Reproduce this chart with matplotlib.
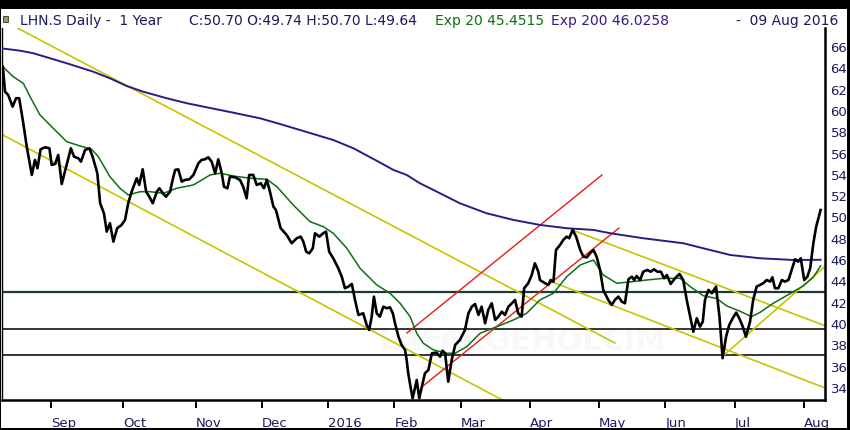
import matplotlib.pyplot as plt
from matplotlib.patches import Rectangle

# trading-day index (0 = 10 Aug 2015) and prices
price_day = [0.7, 1.4, 2.4, 3.8, 4.9, 5.9, 7.2, 8.3, 9.9, 10.9, 11.7, 12.7, 14.1, 15.5, 16.2,
             17.3, 18.3, 19.4, 20.8, 22.3, 23.3, 24.7, 25.5, 26.8, 28.2, 29.2, 30.7, 31.6, 32.8,
             33.7, 34.7, 35.8, 37.0, 38.4, 39.5, 40.5, 41.6, 43.2, 44.0, 45.1, 46.2, 47.2, 48.3,
             49.6, 50.4, 51.5, 52.5, 53.8, 54.6, 55.4, 56.4, 57.5, 58.5, 59.9, 61.2, 62.8, 63.8,
             64.9, 65.9, 67.0, 68.1, 69.1, 70.2, 70.9, 72.0, 72.8, 74.4, 76.0, 77.0, 78.1, 78.9,
             80.2, 81.3, 82.6, 83.6, 84.5, 85.5, 86.6, 87.4, 88.2, 88.9, 90.8, 92.4, 94.0, 95.3,
             96.1, 97.0, 98.0, 99.1, 99.8, 101.2, 102.4, 103.3, 104.3, 105.6, 107.2, 108.3, 109.3,
             110.4, 111.5, 112.5, 113.6, 115.1, 116.2, 117.0, 117.8, 118.5, 119.4, 120.4, 121.5,
             122.6, 123.6, 124.5, 125.2, 126.3, 127.3, 128.4, 128.9, 129.4, 130.2, 130.8, 132.1,
             132.9, 134.7, 135.8, 136.9, 138.4, 139.5, 140.3, 141.1, 142.1, 143.2, 144.3, 145.8,
             147.4, 148.5, 149.6, 150.6, 151.7, 152.7, 153.8, 154.8, 155.9, 157.0, 158.0, 159.1,
             160.1, 161.2, 162.3, 163.3, 164.3, 165.4, 166.2, 167.5, 168.6, 169.6, 170.7, 171.2,
             172.8, 173.9, 174.6, 175.5, 176.3, 177.6, 178.6, 179.7, 180.5, 181.6, 182.7, 184.0,
             185.0, 186.1, 187.1, 188.2, 189.2, 190.3, 191.3, 192.9, 194.0, 195.0, 196.1, 197.2,
             198.2, 199.3, 200.4, 201.1, 201.9, 203.0, 204.0, 205.3, 206.4, 207.4, 208.5, 209.6,
             210.6, 211.5, 212.7, 214.1, 215.5, 216.7, 217.8, 218.9, 219.9, 221.0, 222.0, 222.9,
             223.6, 224.7, 225.8, 227.1, 228.2, 229.2, 230.3, 231.3, 232.4, 233.5, 234.5, 235.6,
             236.6, 237.9, 238.9, 240.0, 241.1, 242.1, 243.2, 244.3, 245.0, 245.8, 246.9, 248.0,
             249.0, 250.1, 251.1, 252.2, 253.2, 254.0, 255.1, 256.1, 257.0, 258.0, 258.9, 259.6,
             260.3]
price_val = [64.15, 61.80, 61.50, 60.40, 61.19, 61.19, 58.84, 56.64, 53.99, 55.40, 54.62, 56.40,
             56.59, 56.49, 54.93, 55.02, 55.86, 53.14, 54.77, 56.49, 55.71, 55.55, 55.24, 56.33,
             56.49, 55.71, 54.15, 51.33, 50.39, 48.67, 49.46, 47.73, 48.99, 49.30, 49.77, 51.33,
             52.42, 53.68, 53.05, 54.52, 52.42, 51.95, 51.33, 52.42, 52.74, 52.27, 51.95, 52.42,
             53.52, 54.46, 54.52, 53.36, 53.52, 53.58, 53.99, 55.09, 55.40, 55.46, 55.65, 55.24,
             54.15, 55.46, 54.15, 52.89, 52.74, 53.83, 53.77, 53.52, 52.89, 51.80, 53.99, 53.99,
             53.05, 53.21, 52.74, 53.52, 52.42, 51.01, 50.70, 49.77, 48.99, 48.36, 47.58, 48.05,
             48.20, 47.73, 46.79, 46.64, 47.11, 48.52, 48.20, 48.52, 48.67, 46.79, 46.17, 45.23,
             44.44, 43.36, 43.51, 43.76, 42.26, 40.85, 41.01, 39.91, 39.44, 40.69, 42.57, 41.01,
             40.69, 41.63, 41.48, 41.57, 41.01, 40.07, 38.81, 38.04, 37.57, 36.63, 35.38, 33.97,
             33.03, 34.75, 33.03, 35.38, 35.69, 37.26, 37.31, 36.94, 37.50, 37.26, 34.59, 36.63,
             38.04, 38.50, 39.44, 41.01, 41.63, 41.88, 40.85, 41.63, 40.07, 41.32, 41.95, 40.38,
             40.69, 41.16, 40.85, 41.63, 41.95, 42.26, 41.01, 40.69, 43.36, 43.83, 44.60, 45.70,
             44.91, 44.13, 43.83, 43.67, 44.13, 43.98, 46.95, 47.42, 47.89, 48.20, 48.05, 48.83,
             48.20, 46.95, 46.32, 46.26, 46.64, 46.95, 46.32, 45.07, 43.20, 42.26, 41.79, 42.26,
             42.57, 42.10, 41.95, 44.20, 44.44, 44.13, 44.51, 44.13, 44.91, 45.07, 44.91, 45.14,
             44.91, 44.91, 44.29, 44.60, 43.76, 44.29, 44.70, 44.13, 42.26, 40.69, 39.28, 40.54,
             39.75, 40.22, 42.26, 43.20, 42.89, 43.51, 40.69, 36.79, 38.81, 39.91, 40.54, 41.07,
             40.54, 39.75, 38.81, 40.22, 42.26, 43.51, 43.67, 43.83, 44.13, 43.98, 44.39, 43.36,
             43.36, 44.13, 43.98, 44.13, 45.07, 46.08, 45.85, 46.17, 44.13, 44.44, 45.23, 47.58,
             49.14, 49.92, 50.70]

ema20_day = [0.7, 4.0, 7.2, 9.9, 12.5, 16.7, 21.0, 25.2, 28.9, 31.0, 34.7, 37.9, 40.5, 44.3,
             47.4, 51.7, 55.9, 61.2, 66.5, 69.7, 73.9, 79.2, 84.5, 87.7, 92.9, 98.2, 102.4, 105.6,
             109.9, 114.1, 119.4, 123.6, 126.8, 130.0, 132.1, 134.2, 137.4, 141.6, 144.3, 148.0,
             152.2, 157.5, 162.8, 167.0, 171.2, 175.5, 179.7, 184.0, 188.2, 191.3, 195.6, 199.8,
             205.1, 210.4, 215.7, 218.9, 223.1, 227.3, 230.5, 234.7, 238.4, 241.1, 245.3, 250.6,
             254.9, 258.0, 260.3]
ema20_val = [64.15, 63.21, 62.59, 61.03, 59.62, 58.37, 57.11, 56.71, 56.40, 55.71, 53.83, 52.74,
             52.11, 52.42, 52.42, 52.27, 52.74, 53.05, 53.99, 54.15, 53.89, 53.68, 53.58, 52.89,
             51.17, 49.61, 49.14, 48.52, 47.11, 45.23, 43.67, 42.89, 41.95, 40.69, 39.13, 38.19,
             37.57, 37.26, 37.26, 37.88, 39.13, 39.75, 40.38, 41.01, 42.26, 42.89, 44.44, 45.54,
             46.01, 44.60, 43.83, 43.95, 44.13, 44.29, 44.29, 43.51, 42.65, 42.40, 41.70, 41.20,
             40.69, 41.10, 41.95, 42.85, 43.60, 44.40, 45.45]

ema200_day = [0.0, 6.2, 10.4, 15.7, 21.0, 29.4, 34.7, 40.0, 45.3, 52.7, 59.1, 65.4, 73.9, 82.3,
              88.7, 95.0, 105.6, 112.0, 118.9, 124.7, 128.9, 133.1, 137.4, 145.8, 154.3, 162.8,
              171.2, 179.7, 188.2, 193.5, 204.0, 216.7, 225.2, 231.6, 241.1, 251.7, 260.3]
ema200_val = [65.88, 65.65, 65.41, 64.94, 64.47, 63.68, 63.06, 62.34, 61.80, 61.19, 60.72, 60.34,
              59.83, 59.31, 58.77, 58.21, 57.27, 56.49, 55.40, 54.46, 53.99, 53.21, 52.58, 51.33,
              50.39, 49.77, 49.30, 48.99, 48.83, 48.52, 48.05, 47.58, 46.95, 46.48, 46.17, 46.01,
              46.03]

# drawn trendlines: (day0, price0, day1, price1)
yellow_lines = [(5.5, 67.75, 195.0, 38.22),
                (0.0, 57.85, 160.0, 32.76),
                (181.4, 48.83, 261.7, 39.84),
                (175.1, 43.95, 261.7, 34.0),
                (229.3, 37.0, 261.7, 45.40)]
red_lines = [(129.0, 39.16, 190.9, 53.99),
             (134.1, 34.19, 196.3, 49.01)]
levels = [43.0, 39.5, 37.1]

month_ticks = [16, 39, 62, 83, 104, 125, 146, 168, 190, 211, 233, 255]
month_labels = ['Sep', 'Oct', 'Nov', 'Dec', '2016', 'Feb', 'Mar', 'Apr', 'May', 'Jun', 'Jul', 'Aug']
price_ticks = list(range(34, 67, 2))

navy = '#1a1a5c'
W, H = 850, 430
fig = plt.figure(figsize=(8.5, 4.3), dpi=100)
ax = fig.add_axes([2 / W, 30 / H, 823 / W, 372 / H])
ax.set_xlim(0.44, 261.7)
ax.set_ylim(32.87, 67.78)

# barely visible watermark
ax.text(120, 37.6, 'LAFARGEHOLCIM', fontsize=22, fontweight='bold', color='#f8f8f8', zorder=0)

ax.axhline(levels[0], color='#1d3b31', lw=1.6, zorder=1)
for lv in levels[1:]:
    ax.axhline(lv, color='black', lw=1.1, zorder=1)

for x0, y0, x1, y1 in yellow_lines:
    ax.plot([x0, x1], [y0, y1], color='#c8c400', lw=1.2, zorder=2)
for x0, y0, x1, y1 in red_lines:
    ax.plot([x0, x1], [y0, y1], color='#e81c14', lw=1.0, zorder=2)

ax.plot(ema200_day, ema200_val, color='#2e1a86', lw=1.4, zorder=3)
ax.plot(ema20_day, ema20_val, color='#0f6e14', lw=1.1, zorder=3)
ax.plot(price_day, price_val, color='black', lw=1.9, zorder=4, solid_joinstyle='round')

ax.spines['top'].set_visible(False)
ax.spines['left'].set_linewidth(1.0)
ax.spines['right'].set_linewidth(1.8)
ax.spines['bottom'].set_linewidth(1.8)

ax.set_xticks(month_ticks)
ax.set_xticklabels(month_labels, ha='left', color=navy, fontsize=9.5)
ax.tick_params(axis='x', direction='out', length=6, width=1.4, pad=6)
ax.yaxis.tick_right()
ax.set_yticks(price_ticks)
ax.set_yticklabels([str(v) for v in price_ticks], color=navy, fontsize=9.5)
ax.tick_params(axis='y', length=0, pad=4)

# header
ty = 1 - 21 / H
fs = 10.0
fig.text(20.5 / W, ty, 'LHN.S Daily -  1 Year', color=navy, fontsize=fs, va='center')
fig.text(189 / W, ty, 'C:50.70 O:49.74 H:50.70 L:49.64', color=navy, fontsize=fs, va='center')
fig.text(435 / W, ty, 'Exp 20 45.4515', color='#0f6e14', fontsize=fs, va='center')
fig.text(551 / W, ty, 'Exp 200 46.0258', color='#3a1a7e', fontsize=fs, va='center')
fig.text(838 / W, ty, '-  09 Aug 2016', color=navy, fontsize=fs, va='center', ha='right')
fig.patches.append(Rectangle((3 / W, 1 - 22 / H), 5 / W, 6 / H, transform=fig.transFigure,
                             facecolor='#9a9a55', edgecolor='#333333', lw=0.6))

# black outer frame
for x, y, w, h in [(0, 1 - 9 / H, 1, 9 / H), (847 / W, 0, 3 / W, 1), (0, 0, 1, 2 / H), (0, 0, 1.2 / W, 1)]:
    fig.patches.append(Rectangle((x, y), w, h, transform=fig.transFigure,
                                 facecolor='black', edgecolor='none'))

fig.savefig('out.png', dpi=100)
